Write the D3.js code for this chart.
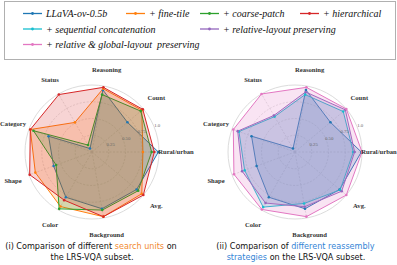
<!DOCTYPE html>
<html>
<head>
<meta charset="utf-8">
<script src="https://cdn.jsdelivr.net/npm/d3@7/dist/d3.min.js"></script>
<style>
  html, body { margin: 0; padding: 0; background: #fff; }
  svg { display: block; }
</style>
</head>
<body>
<svg id="chart" width="397" height="265"></svg>
<script>
// ---- data ----
const axesLabels = ["Rural/urban", "Count", "Reasoning", "Status", "Category", "Shape", "Color", "Background", "Avg."];
const llava        = [0.99, 0.69, 0.94, 0.06, 0.69, 0.61, 0.78, 0.86, 0.87];
const fineTile     = [0.76, 0.97, 0.96, 0.51, 0.98, 0.90, 0.94, 0.98, 0.97];
const coarsePatch  = [0.89, 0.95, 0.87, 0.12, 0.93, 0.57, 0.98, 0.88, 0.90];
const hierarchical = [0.93, 0.99, 0.98, 0.99, 0.98, 0.99, 0.83, 0.98, 1.00];
const seqConcat    = [0.87, 0.94, 0.87, 0.61, 0.89, 0.80, 0.95, 0.78, 0.88];
const relLayout    = [0.89, 0.98, 0.91, 0.63, 0.91, 0.84, 0.88, 0.83, 0.91];
const relGlobal    = [1.00, 1.00, 0.98, 1.00, 0.98, 0.97, 0.99, 0.98, 1.00];
const radialTicks  = [0.25, 0.5, 0.75, 1.0];
const radialTickLabels = ["0.25", "0.50", "0.75", "1.0"];

const legendNames = ["LLaVA-ov-0.5b", "+ fine-tile", "+ coarse-patch", "+ hierarchical",
  "+ sequential concatenation", "+ relative-layout preserving", "+ relative & global-layout  preserving"];
const colors = ["#1f77b4", "#ff7f0e", "#2ca02c", "#d62728", "#17becf", "#9467bd", "#e377c2"];

const leftSeries = [
  { values: llava, color: colors[0] },
  { values: fineTile, color: colors[1] },
  { values: coarsePatch, color: colors[2] },
  { values: hierarchical, color: colors[3] }
];
const rightSeries = [
  { values: llava, color: colors[0] },
  { values: seqConcat, color: colors[4] },
  { values: relLayout, color: colors[5] },
  { values: relGlobal, color: colors[6] }
];

const svg = d3.select("#chart");

// ---- legend ----
const legend = svg.append("g");
legend.append("rect").attr("x", 4.5).attr("y", 1.5).attr("width", 391).attr("height", 58)
  .attr("fill", "#fff").attr("stroke", "#b0b0b0").attr("stroke-width", 1);
const legendPos = [
  [23, 13.5], [126, 13.5], [200, 13.5], [300, 13.5],
  [23, 29], [200, 29],
  [23, 44.5]
];
legendNames.forEach((name, i) => {
  const [x, y] = legendPos[i];
  const g = legend.append("g").attr("transform", `translate(${x},${y})`);
  g.append("line").attr("x1", 0).attr("x2", 19).attr("y1", 0).attr("y2", 0)
    .attr("stroke", colors[i]).attr("stroke-width", 1.3);
  g.append("circle").attr("cx", 9.5).attr("cy", 0).attr("r", 1.4).attr("fill", colors[i]);
  g.append("text").attr("x", 23).attr("y", 0).attr("dy", "0.35em")
    .attr("font-family", "'Liberation Serif', 'DejaVu Serif', serif")
    .attr("font-style", "italic").attr("font-size", 10).attr("fill", "#111")
    .attr("xml:space", "preserve")
    .text(name);
});

// ---- radar ----
const R = 67;
const rScale = d3.scaleLinear().domain([0, 1]).range([0, R]);
const n = axesLabels.length;
const angleOf = i => i * 2 * Math.PI / n; // math angle, counter-clockwise from east

function drawRadar(cx, cy, series) {
  const g = svg.append("g").attr("transform", `translate(${cx},${cy})`);
  radialTicks.forEach(t => {
    g.append("circle").attr("r", rScale(t)).attr("fill", "none")
      .attr("stroke", t === 1 ? "#dcdcdc" : "#d0d0d0")
      .attr("stroke-width", t === 1 ? 1 : 0.6)
      .attr("stroke-dasharray", t === 1 ? null : "2,1.5");
  });
  axesLabels.forEach((a, i) => {
    const th = angleOf(i);
    g.append("line").attr("x1", 0).attr("y1", 0)
      .attr("x2", rScale(1) * Math.cos(th)).attr("y2", -rScale(1) * Math.sin(th))
      .attr("stroke", "#d0d0d0").attr("stroke-width", 0.6).attr("stroke-dasharray", "2,1.5");
  });
  const radial = d3.lineRadial()
    .angle((d, i) => Math.PI / 2 - angleOf(i))
    .radius(d => rScale(d))
    .curve(d3.curveLinearClosed);
  series.forEach(s => {
    g.append("path").attr("d", radial(s.values))
      .attr("fill", s.color).attr("fill-opacity", 0.2)
      .attr("stroke", s.color).attr("stroke-width", 1).attr("stroke-linejoin", "round");
  });
  series.forEach(s => {
    g.selectAll(null).data(s.values).enter().append("circle")
      .attr("cx", (d, i) => rScale(d) * Math.cos(angleOf(i)))
      .attr("cy", (d, i) => -rScale(d) * Math.sin(angleOf(i)))
      .attr("r", 1.3).attr("fill", s.color);
  });
  const rl = 22.5 * Math.PI / 180;
  radialTicks.forEach((t, k) => {
    const rr = rScale(t) + 3.5;
    g.append("text").attr("x", rr * Math.cos(rl)).attr("y", -rr * Math.sin(rl))
      .attr("text-anchor", "middle").attr("dy", "0.35em")
      .attr("font-family", "'Liberation Serif', serif").attr("font-size", 4.8)
      .attr("fill", "#666").text(radialTickLabels[k]);
  });
  axesLabels.forEach((a, i) => {
    const th = angleOf(i);
    const lr = 84;
    g.append("text").attr("x", lr * Math.cos(th)).attr("y", -lr * Math.sin(th))
      .attr("text-anchor", "middle").attr("dy", "0.35em")
      .attr("font-family", "'Liberation Serif', serif").attr("font-size", 6.6)
      .attr("font-weight", 600).attr("fill", "#333").text(a);
  });
}

drawRadar(92, 152, leftSeries);
drawRadar(295, 152, rightSeries);

// ---- captions ----
const capFont = "'DejaVu Sans', sans-serif";
function caption(x, y, parts) {
  const t = svg.append("text").attr("x", x).attr("y", y).attr("text-anchor", "middle")
    .attr("font-family", capFont).attr("font-size", 8.1).attr("fill", "#111")
    .attr("xml:space", "preserve").attr("dy", "0.35em");
  parts.forEach(p => t.append("tspan").attr("fill", p[1] || "#111").text(p[0]));
}
caption(91, 246.5, [["(i) Comparison of different "], ["search units", "#f28a30"], [" on"]]);
caption(92, 257.5, [["the LRS-VQA subset."]]);
caption(295.5, 246.5, [["(ii) Comparison of "], ["different reassembly", "#3585d6"]]);
caption(296, 257.5, [["strategies", "#3585d6"], [" on the LRS-VQA subset."]]);
</script>
</body>
</html>
